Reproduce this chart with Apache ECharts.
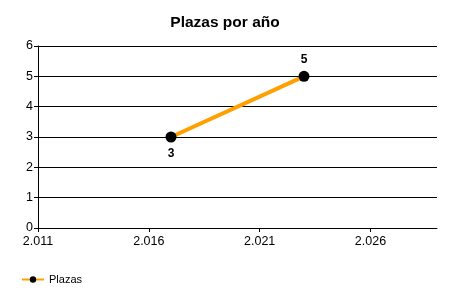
<!DOCTYPE html>
<html><head><meta charset="utf-8">
<script src="https://cdn.jsdelivr.net/npm/echarts@6/dist/echarts.min.js"></script>
<style>html,body{margin:0;padding:0;background:#fff}#c{width:450px;height:300px}</style>
</head><body><div id="c"></div>
<script>
const title = 'Plazas por año';
const seriesName = 'Plazas';
const years = [2017, 2023];
const values = [3, 5];
const labelPositions = ['bottom', 'top'];
const xTicks = [2011, 2016, 2021, 2026];
const xMin = 2011, xMax = 2029;

const font = '"Liberation Sans", Arial, sans-serif';
const chart = echarts.init(document.getElementById('c'));
const fmt = v => { const s = String(v); return s.length > 3 ? s.slice(0, s.length - 3) + '.' + s.slice(-3) : s; };
chart.setOption({
  animation: false,
  title: { text: title, left: 'center', top: 10, textStyle: { fontFamily: font, fontSize: 15.5, fontWeight: 'bold', color: '#000' } },
  legend: { left: 16, bottom: 10, itemWidth: 22, itemHeight: 8, itemGap: 6,
    textStyle: { fontFamily: font, fontSize: 11, color: '#000' }, data: [seriesName] },
  grid: { left: 38, right: 13, top: 46, bottom: 72 },
  xAxis: { type: 'value', min: xMin, max: xMax, interval: 5,
    axisLine: { lineStyle: { color: '#000', width: 1 } },
    axisTick: { show: true, length: 4, lineStyle: { color: '#000' }, customValues: xTicks },
    axisLabel: { color: '#000', fontFamily: font, fontSize: 12.5, margin: 7, customValues: xTicks, formatter: fmt },
    splitLine: { show: false } },
  yAxis: { type: 'value', min: 0, max: 6, interval: 1,
    axisLine: { show: true, lineStyle: { color: '#000', width: 1 } },
    axisTick: { show: true, length: 4, lineStyle: { color: '#000' } },
    axisLabel: { color: '#000', fontFamily: font, fontSize: 12.5, margin: 5 },
    splitLine: { show: true, lineStyle: { color: '#000', width: 1 } } },
  series: [{
    name: seriesName, type: 'line',
    data: years.map((y, i) => ({ value: [y, values[i]], label: { position: labelPositions[i] } })),
    lineStyle: { color: '#FFA000', width: 4 },
    itemStyle: { color: '#000' },
    symbol: 'circle', symbolSize: 11,
    label: { show: true, fontFamily: font, fontSize: 12, fontWeight: 'bold', color: '#000', distance: 5,
      formatter: p => p.value[1] }
  }]
});
</script></body></html>
